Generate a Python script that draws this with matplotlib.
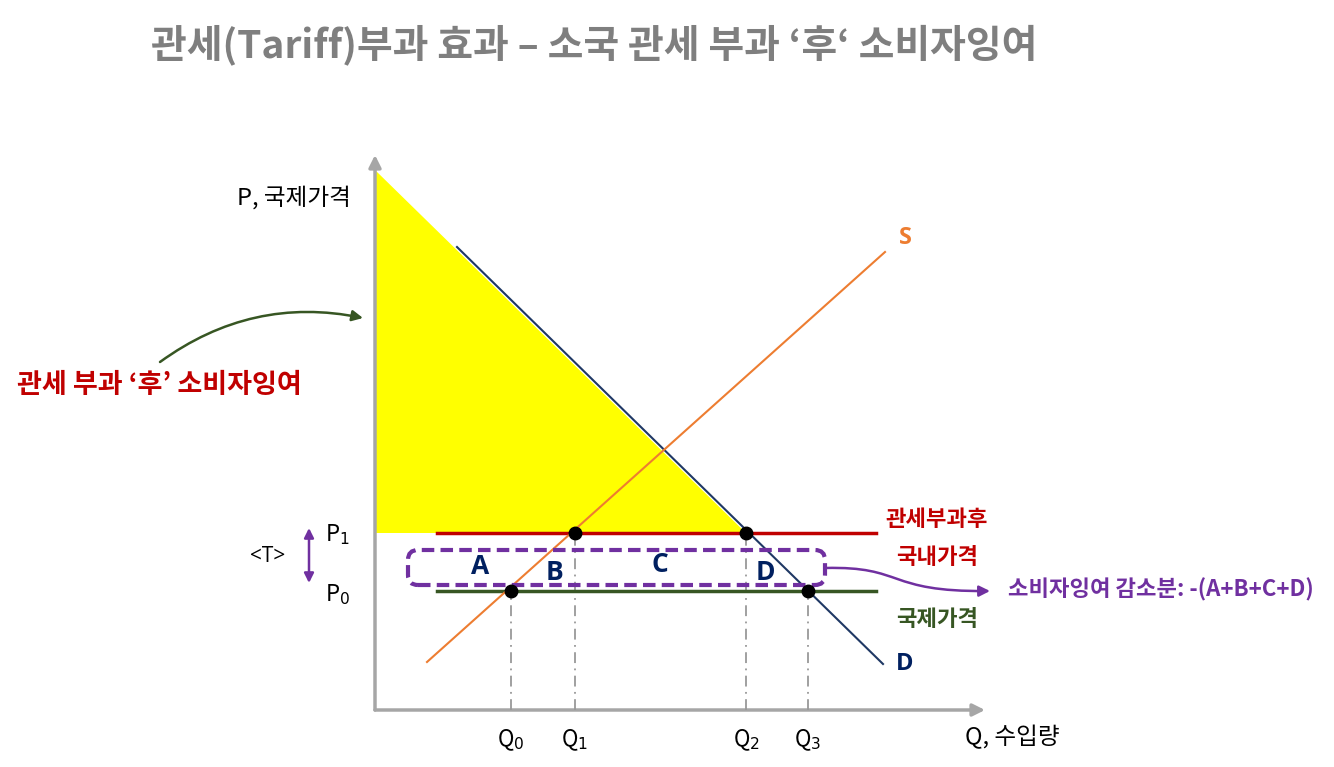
import matplotlib
matplotlib.use('Agg')
import matplotlib.pyplot as plt
from matplotlib.patches import FancyBboxPatch, Polygon, FancyArrowPatch
from matplotlib.path import Path

plt.rcParams['font.family'] = ['Noto Sans CJK KR', 'DejaVu Sans']

# quantities / prices (chart units)
q_labels = ['Q$_0$', 'Q$_1$', 'Q$_2$', 'Q$_3$']
q_vals = [13.6, 20.0, 37.1, 43.3]
p0 = 11.9  # world price
p1 = 17.7  # domestic price after tariff

# demand / supply segments
demand_q = [8.2, 50.8]
demand_p = [46.3, 4.6]
supply_q = [5.2, 51.0]
supply_p = [4.8, 45.8]
demand_top = 54.0

# surplus after tariff (yellow triangle)
cs_q = [0, 0, q_vals[2]]
cs_p = [p1, demand_top, p1]

# equilibrium dots
dot_q = [q_vals[0], q_vals[1], q_vals[2], q_vals[3]]
dot_p = [p0, p1, p1, p0]

# area labels
area_labels = ['A', 'B', 'C', 'D']
area_q = [10.5, 18.0, 28.5, 39.0]
area_p = [14.3, 13.7, 14.5, 13.7]

fig = plt.figure(figsize=(13.34, 7.67), dpi=100)
ax = fig.add_axes([0, 0, 1, 1])
ax.set_xlim(-37.5, 95.9)
ax.set_ylim(-5.7, 71.0)
ax.axis('off')

navy = '#1f3864'
red = '#c00000'
green = '#375623'
orange = '#ed7d31'
purple = '#7030a0'
grey = '#a6a6a6'
latin = ['Open Sans', 'DejaVu Sans']

# yellow area
ax.add_patch(Polygon(list(zip(cs_q, cs_p)), closed=True, facecolor='#ffff00',
                     edgecolor='none', zorder=1))

# axes arrows
ax.annotate('', xy=(61.0, 0), xytext=(0, 0),
            arrowprops=dict(arrowstyle='-|>', color=grey, lw=2.5, mutation_scale=18,
                            shrinkA=0, shrinkB=0), zorder=2)
ax.annotate('', xy=(0, 55.5), xytext=(0, 0),
            arrowprops=dict(arrowstyle='-|>', color=grey, lw=2.5, mutation_scale=18,
                            shrinkA=0, shrinkB=0), zorder=2)

# vertical guides
for q, p in zip(dot_q, dot_p):
    ax.plot([q, q], [0, p], color='#999999', lw=1.3, ls=(0, (6, 3, 1, 3)), zorder=2)

# price lines
ax.plot([6.2, 50.1], [p1, p1], color=red, lw=2.5, zorder=3)
ax.plot([6.2, 50.1], [p0, p0], color=green, lw=2.5, zorder=3)

# demand / supply
ax.plot(demand_q, demand_p, color=navy, lw=1.5, zorder=4)
ax.plot(supply_q, supply_p, color=orange, lw=1.5, zorder=4)

ax.plot(dot_q, dot_p, 'o', color='black', markersize=9, zorder=6)

# purple dashed box
ax.add_patch(FancyBboxPatch((3.6, 12.8), 41.1, 2.9, boxstyle='round,pad=0.3,rounding_size=1.0',
                            facecolor='none', edgecolor=purple, lw=3, ls=(0, (3, 1.5)),
                            zorder=5))

for lab, q, p in zip(area_labels, area_q, area_p):
    ax.text(q, p, lab, color='#002060', fontsize=19, fontweight='bold', family=latin,
            ha='center', va='center', zorder=7)

# curve from box to text
verts = [(45.0, 14.2), (53.0, 14.4), (51.0, 11.8), (61.5, 11.9)]
path = Path(verts, [Path.MOVETO, Path.CURVE4, Path.CURVE4, Path.CURVE4])
ax.add_patch(FancyArrowPatch(path=path, arrowstyle='-|>', color=purple, lw=1.8,
                             mutation_scale=16, zorder=5))

# left annotation arrow
ax.annotate('', xy=(-1.2, 39.2), xytext=(-21.5, 34.8),
            arrowprops=dict(arrowstyle='-|>', color=green, lw=1.8, mutation_scale=16,
                            connectionstyle='arc3,rad=-0.22', shrinkA=0, shrinkB=0))

# T double arrow
ax.annotate('', xy=(-6.6, 18.2), xytext=(-6.6, 12.7),
            arrowprops=dict(arrowstyle='<|-|>', color=purple, lw=1.8, mutation_scale=14,
                            shrinkA=0, shrinkB=0))

# texts
fig.text(594 / 1334, 1 - 45 / 767, '관세(Tariff)부과 효과 – 소국 관세 부과 ‘후‘ 소비자잉여',
         fontsize=28, fontweight='bold', color='#7f7f7f', ha='center', va='center')

ax.text(-13.8, 51.2, 'P, 국제가격', fontsize=17, ha='left', va='center')
ax.text(-35.8, 32.5, '관세 부과 ‘후’ 소비자잉여', fontsize=19.5, fontweight='bold',
        color=red, ha='left', va='center')
ax.text(-10.7, 15.4, '<T>', fontsize=15, family=latin, ha='center', va='center')
ax.text(-5.0, 17.5, 'P$_1$', fontsize=16, ha='left', va='center')
ax.text(-5.0, 11.5, 'P$_0$', fontsize=16, ha='left', va='center')

for lab, q in zip(q_labels, q_vals):
    ax.text(q, -3.0, lab, fontsize=16, ha='center', va='center')
ax.text(59.0, -2.7, 'Q, 수입량', fontsize=17, ha='left', va='center')

ax.text(53.0, 47.2, 'S', fontsize=17, fontweight='bold', color=orange, family=latin,
        ha='center', va='center')
ax.text(53.0, 4.6, 'D', fontsize=17, fontweight='bold', color='#002060', family=latin,
        ha='center', va='center')

ax.text(56.2, 19.0, '관세부과후', fontsize=16, fontweight='bold', color=red, ha='center', va='center')
ax.text(56.2, 15.3, '국내가격', fontsize=16, fontweight='bold', color=red, ha='center', va='center')
ax.text(56.2, 9.0, '국제가격', fontsize=16, fontweight='bold', color=green, ha='center', va='center')
ax.text(63.3, 12.0, '소비자잉여 감소분: -(A+B+C+D)', fontsize=16, fontweight='bold',
        color=purple, ha='left', va='center')

fig.savefig('out.png', dpi=100)
